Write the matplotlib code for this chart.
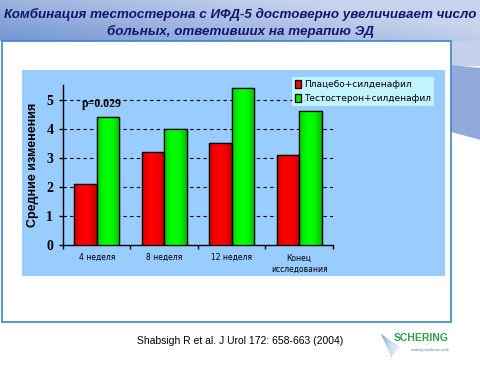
import numpy as np
import matplotlib
matplotlib.use("Agg")
import matplotlib.pyplot as plt
from matplotlib.patches import Rectangle, Polygon

categories = ["4 неделя", "8 неделя", "12 неделя", "Конец\nисследования"]
placebo = [2.1, 3.2, 3.5, 3.1]
testosterone = [4.4, 4.0, 5.4, 4.6]
series_names = ["Плацебо+силденафил", "Тестостерон+силденафил"]
yticks = [0, 1, 2, 3, 4, 5]
title = "Комбинация тестостерона с ИФД-5 достоверно увеличивает число\nбольных, ответивших на терапию ЭД"
ylabel = "Средние изменения"
annotation = "p=0.029"
source = "Shabsigh R et al. J Urol 172: 658-663 (2004)"

W, H = 481, 378
fig = plt.figure(figsize=(W / 100, H / 100), dpi=100)
fig.patch.set_facecolor("white")

def fx(x): return x / W
def fy(y): return 1 - y / H

# header gradient
hax = fig.add_axes([0, fy(41), 1, 41 / H])
hax.set_axis_off()
gx, gy = np.meshgrid(np.linspace(0, 1, 200), np.linspace(0, 1, 40))
t = np.clip(0.9 * gx + 0.5 * (1 - gy) - 0.05, 0, 1)
c1 = np.array([0.47, 0.60, 0.83])
c2 = np.array([0.78, 0.83, 0.93])
img = c1[None, None, :] * (1 - t[..., None]) + c2[None, None, :] * t[..., None]
hax.imshow(img, aspect="auto", extent=[0, 1, 0, 1], origin="upper")

# right strip
fig.patches.append(Rectangle((fx(451), fy(66)), fx(30), 25 / H, transform=fig.transFigure,
                             facecolor="#C6D2EC", edgecolor="none", zorder=0))
fig.patches.append(Polygon([[fx(451), fy(65)], [fx(481), fy(68)], [fx(481), fy(140)], [fx(451), fy(132)]],
                           closed=True, transform=fig.transFigure, facecolor="#92AADB", edgecolor="none", zorder=0))

# white panel with border
fig.patches.append(Rectangle((fx(1.5), fy(322)), fx(451) - fx(1.5), fy(41) - fy(322),
                             transform=fig.transFigure, facecolor="white", edgecolor="#3A86C8", linewidth=1.2, zorder=1))
# chart area
fig.patches.append(Rectangle((fx(22), fy(276)), fx(445) - fx(22), fy(70) - fy(276),
                             transform=fig.transFigure, facecolor="#99CCFF", edgecolor="none", zorder=2))

tl = title.split("\n")
fig.text(0.5, fy(14), tl[0], ha="center", va="center", fontsize=9.6,
         fontweight="bold", style="italic", color="#14146E", family="Liberation Sans")
fig.text(0.5, fy(31), tl[1], ha="center", va="center", fontsize=9.6,
         fontweight="bold", style="italic", color="#14146E", family="Liberation Sans")

ax = fig.add_axes([fx(63), fy(245), fx(333) - fx(63), fy(85) - fy(245)])
ax.set_facecolor("none")
ax.set_zorder(5)
x = np.arange(len(categories))
bw = 1 / 3
b1 = ax.bar(x - bw / 2, placebo, bw, color="#FF0000", edgecolor="black", linewidth=0.9, zorder=3, label=series_names[0])
b2 = ax.bar(x + bw / 2, testosterone, bw, color="#00E600", edgecolor="black", linewidth=0.9, zorder=3, label=series_names[1])

# horizontal shading inside the bars
u = np.linspace(0, 1, 64)
shade = np.clip(0.55 + 0.45 * np.sin(np.pi * np.clip(u * 0.85 + 0.1, 0, 1)) ** 0.6, 0, 1)
def grad(base):
    base = np.array(base)
    return (base[None, :] * shade[:, None])[None, :, :]
for bars, base in ((b1, [1.0, 0.0, 0.0]), (b2, [0.0, 1.0, 0.0])):
    g = grad(base)
    for r in bars:
        x0, w_, h_ = r.get_x(), r.get_width(), r.get_height()
        im = ax.imshow(g, extent=[x0, x0 + w_, 0, h_], aspect="auto", zorder=3.5, interpolation="bilinear")
        im.set_clip_path(r)
    for r in bars:
        ax.add_patch(Rectangle((r.get_x(), 0), r.get_width(), r.get_height(), fill=False,
                               edgecolor="black", linewidth=0.9, zorder=4))

ax.set_xlim(-0.5, len(categories) - 0.5)
ax.set_ylim(0, 5.5)
ax.set_aspect("auto")
for v in yticks[1:]:
    ax.axhline(v, color="black", linestyle=(0, (3, 3)), linewidth=0.8, zorder=1)
for s in ["top", "right"]:
    ax.spines[s].set_visible(False)
ax.spines["left"].set_linewidth(1)
ax.spines["bottom"].set_linewidth(1)
ax.set_yticks(yticks)
ax.set_yticklabels([str(v) for v in yticks], fontsize=10, fontweight="bold", family="Liberation Serif")
ax.tick_params(axis="y", length=3, width=1, direction="out", pad=4)
ax.set_xticks(x)
ax.set_xticklabels(categories, fontsize=5.5, family="DejaVu Sans", linespacing=1.35)
ax.tick_params(axis="x", length=0, pad=6)
ax.set_xticks(np.arange(len(categories) + 1) - 0.5, minor=True)
ax.tick_params(axis="x", which="minor", length=3, width=1, direction="out")
ax.set_ylabel(ylabel, fontsize=9, fontweight="bold", family="Liberation Sans", labelpad=5)
ax.text(x[0] + 0.08, testosterone[0] + 0.45, annotation, ha="center", va="center", fontsize=8.5,
        fontweight="bold", family="Liberation Serif")

leg = ax.legend(loc="upper left", bbox_to_anchor=(fx(292), fy(77)), bbox_transform=fig.transFigure,
                frameon=True, fancybox=False, fontsize=6.5, handlelength=0.7, handleheight=0.9,
                handletextpad=0.3, borderpad=0.35, labelspacing=0.55, borderaxespad=0)
leg.get_frame().set_facecolor("#CCFFFF")
leg.get_frame().set_edgecolor("none")

fig.text(fx(240), fy(341), source, ha="center", va="center", fontsize=7.5, family="Liberation Sans")
fig.text(fx(421), fy(338), "SCHERING", ha="center", va="center", fontsize=7.5, fontweight="bold",
         color="#2E9E4A", family="Liberation Sans")
fig.text(fx(430), fy(350), "making medicine work", ha="center", va="center", fontsize=2.8,
         color="#5B7FB8", family="Liberation Sans")
for k in range(6):
    fig.lines.append(plt.Line2D([fx(382), fx(392 + k * 1.2)], [fy(335), fy(357 - k * 2)],
                                transform=fig.transFigure, color="#7FA8D8", linewidth=0.4))

fig.savefig("out.png", dpi=100)
